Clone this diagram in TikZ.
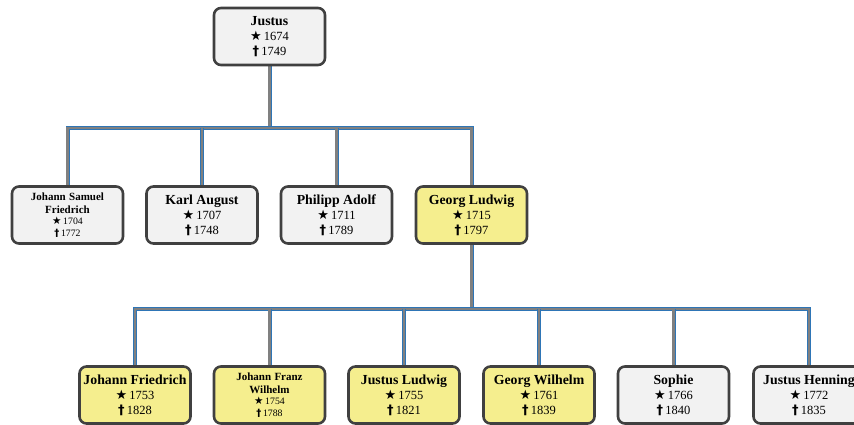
\documentclass[tikz,border=0pt]{standalone}
\usepackage{fontspec}
\setmainfont{Liberation Serif}
\newfontfamily\symfont{DejaVu Sans}
\usetikzlibrary{backgrounds}
\definecolor{boxgray}{HTML}{F2F2F2}
\definecolor{boxyellow}{HTML}{F5EE8E}
\definecolor{boxborder}{HTML}{404040}
\definecolor{conngray}{HTML}{808080}
\definecolor{connblue}{HTML}{2E75B6}
\newcommand{\bstar}{{\symfont\fontsize{13}{13}\selectfont\char"2605}}
\newcommand{\bdag}{{\symfont\bfseries\fontsize{13}{13}\selectfont\char"2020}}
\newcommand{\sbstar}{{\symfont\fontsize{10.5}{10.5}\selectfont\char"2605}}
\newcommand{\sbdag}{{\symfont\bfseries\fontsize{10}{10}\selectfont\char"2020}}
\newcommand{\person}[3]{\fontsize{13.8}{15}\selectfont\textbf{#1}\\\fontsize{12.5}{15}\selectfont\bstar\,#2\\\bdag\,#3\par}
\newcommand{\smallperson}[4]{\fontsize{11}{12.5}\selectfont\textbf{#1}\\\textbf{#2}\\\fontsize{9.8}{11.5}\selectfont\sbstar\,#3\\\sbdag\,#4\par}
\tikzset{
  pbox/.style={draw=boxborder, line width=2.6pt, rounded corners=7pt, fill=boxgray,
    minimum width=111pt, minimum height=57pt, inner sep=0pt, align=center, text width=110pt},
  ybox/.style={pbox, fill=boxyellow},
  conn/.style={draw=conngray, line width=2.6pt, preaction={draw=connblue, line width=4pt}},
}
\begin{document}
\begin{tikzpicture}[x=1pt,y=-1pt]
\useasboundingbox (0,0) rectangle (854,425);
\clip (0,0) rectangle (854,425);
\node[pbox] (justus) at (269.5,36.5) {\person{Justus}{1674}{1749}};
\node[pbox] (jsf) at (67.5,215) {\smallperson{Johann Samuel}{Friedrich}{1704}{1772}};
\node[pbox] (ka) at (202,215) {\person{Karl August}{1707}{1748}};
\node[pbox] (pa) at (336.5,215) {\person{Philipp Adolf}{1711}{1789}};
\node[ybox] (gl) at (471.5,215) {\person{Georg Ludwig}{1715}{1797}};
\node[ybox] (jf) at (135,395) {\person{Johann Friedrich}{1753}{1828}};
\node[ybox] (jfw) at (269.5,395) {\smallperson{Johann Franz}{Wilhelm}{1754}{1788}};
\node[ybox] (jl) at (404,395) {\person{Justus Ludwig}{1755}{1821}};
\node[ybox] (gw) at (539,395) {\person{Georg Wilhelm}{1761}{1839}};
\node[pbox] (so) at (673.5,395) {\person{Sophie}{1766}{1840}};
\node[pbox] (jh) at (809,395) {\person{Justus Henning}{1772}{1835}};
\coordinate (b1) at (269.5,128);
\coordinate (b2) at (471.5,309);
\begin{scope}[on background layer]
\draw[conn] (justus.south) -- (b1);
\draw[conn] (jsf.north) |- (b1) -| (gl.north);
\draw[conn] (ka.north) -- (ka.north |- b1);
\draw[conn] (pa.north) -- (pa.north |- b1);
\draw[conn] (gl.south) -- (b2);
\draw[conn] (jf.north) |- (b2) -| (jh.north);
\draw[conn] (jfw.north) -- (jfw.north |- b2);
\draw[conn] (jl.north) -- (jl.north |- b2);
\draw[conn] (gw.north) -- (gw.north |- b2);
\draw[conn] (so.north) -- (so.north |- b2);
\end{scope}
\end{tikzpicture}
\end{document}
